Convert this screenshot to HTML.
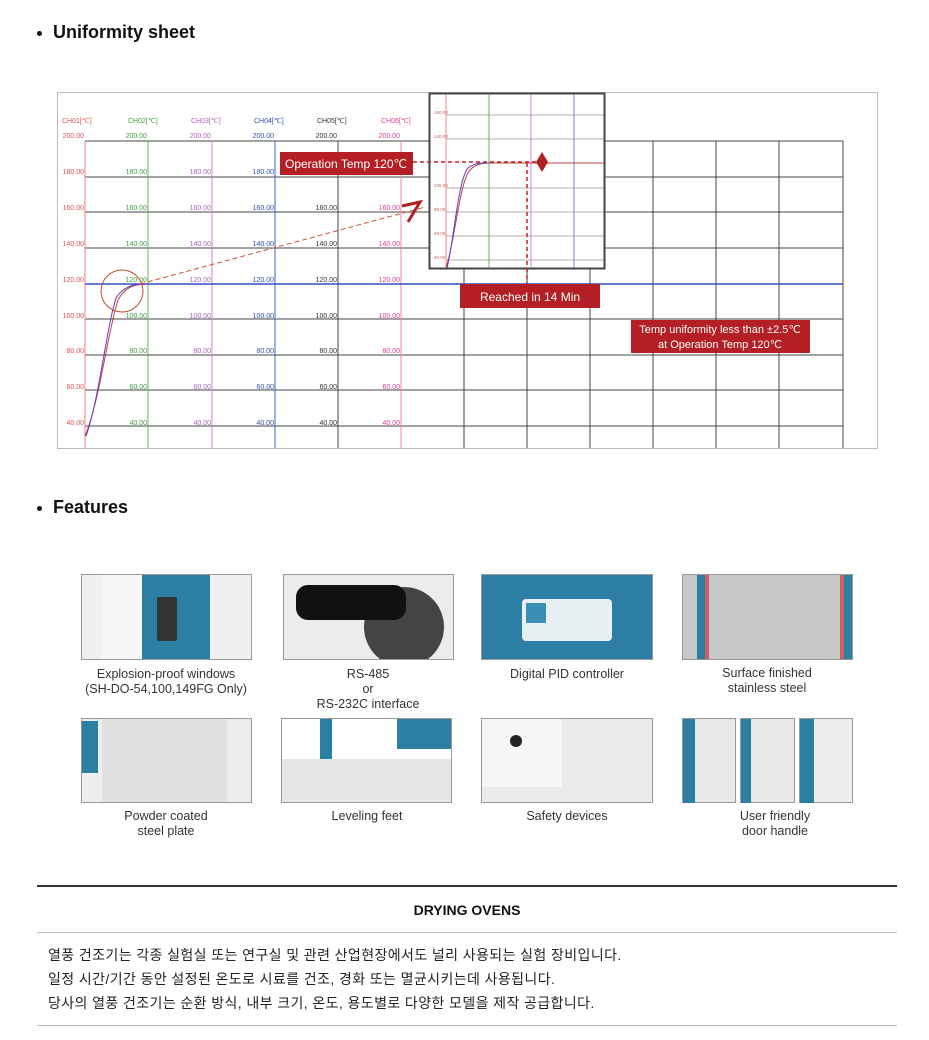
<!DOCTYPE html>
<html><head><meta charset="utf-8"><style>
body{margin:0;width:929px;height:1040px;background:#fff;font-family:"Liberation Sans",sans-serif;position:relative;overflow:hidden}
.h{position:absolute;left:37px;font-weight:bold;font-size:18px;color:#111}
.h:before{content:"";position:absolute;left:0;top:9px;width:5px;height:5px;border-radius:50%;background:#111}
.h span{margin-left:16px}
.img{position:absolute;border:1px solid #999;box-sizing:border-box;overflow:hidden;background:#e8e8e8}
.cap{position:absolute;width:200px;text-align:center;font-size:12.5px;color:#333;line-height:15px;font-family:"Liberation Sans Narrow","Liberation Sans",sans-serif}
.kr{position:absolute;left:48px;font-size:14px;letter-spacing:0.4px;color:#222;font-family:"Liberation Sans","Noto Sans CJK KR",sans-serif}
</style></head><body>
<div class="h" style="top:22px"><span>Uniformity sheet</span></div>
<div class="h" style="top:497px"><span>Features</span></div>

<svg style="position:absolute;left:0;top:0" width="929" height="460" font-family="Liberation Sans Narrow, Liberation Sans, sans-serif">
<rect x="57.5" y="92.5" width="820" height="356" fill="#fff" stroke="#bbb"/>
<g stroke="#444" stroke-width="1">
<line x1="85" y1="141" x2="843" y2="141"/><line x1="85" y1="177" x2="843" y2="177"/><line x1="85" y1="212" x2="843" y2="212"/><line x1="85" y1="248" x2="843" y2="248"/><line x1="85" y1="319" x2="843" y2="319"/><line x1="85" y1="355" x2="843" y2="355"/><line x1="85" y1="390" x2="843" y2="390"/><line x1="85" y1="426" x2="843" y2="426"/>
<line x1="338" y1="141" x2="338" y2="448"/><line x1="464" y1="141" x2="464" y2="448"/><line x1="527" y1="141" x2="527" y2="448"/><line x1="590" y1="141" x2="590" y2="448"/><line x1="653" y1="141" x2="653" y2="448"/><line x1="716" y1="141" x2="716" y2="448"/><line x1="779" y1="141" x2="779" y2="448"/><line x1="843" y1="141" x2="843" y2="448"/>
</g>
<line x1="85" y1="141" x2="85" y2="448" stroke="#f08080"/>
<line x1="148" y1="141" x2="148" y2="448" stroke="#5cb85c"/>
<line x1="212" y1="141" x2="212" y2="448" stroke="#d080d0"/>
<line x1="275" y1="141" x2="275" y2="448" stroke="#4060c0"/>
<line x1="401" y1="141" x2="401" y2="448" stroke="#f080c0"/>
<line x1="85" y1="284" x2="843" y2="284" stroke="#3050c0" stroke-width="1.5"/>
<g font-size="7" fill="#e05050">
<text x="62" y="123">CH01[℃]</text><text x="128" y="123" fill="#40a040">CH02[℃]</text><text x="191" y="123" fill="#b060c0">CH03[℃]</text><text x="254" y="123" fill="#3050b0">CH04[℃]</text><text x="317" y="123" fill="#333">CH05[℃]</text><text x="381" y="123" fill="#e04090">CH06[℃]</text>
</g>
<g font-size="7">
<g fill="#e05050" text-anchor="end"><text x="84" y="138">200.00</text><text x="84" y="174">180.00</text><text x="84" y="210">160.00</text><text x="84" y="246">140.00</text><text x="84" y="282">120.00</text><text x="84" y="318">100.00</text><text x="84" y="353">80.00</text><text x="84" y="389">60.00</text><text x="84" y="425">40.00</text></g>
<g fill="#40a040" text-anchor="end"><text x="147" y="138">200.00</text><text x="147" y="174">180.00</text><text x="147" y="210">160.00</text><text x="147" y="246">140.00</text><text x="147" y="282">120.00</text><text x="147" y="318">100.00</text><text x="147" y="353">80.00</text><text x="147" y="389">60.00</text><text x="147" y="425">40.00</text></g>
<g fill="#b060c0" text-anchor="end"><text x="211" y="138">200.00</text><text x="211" y="174">180.00</text><text x="211" y="210">160.00</text><text x="211" y="246">140.00</text><text x="211" y="282">120.00</text><text x="211" y="318">100.00</text><text x="211" y="353">80.00</text><text x="211" y="389">60.00</text><text x="211" y="425">40.00</text></g>
<g fill="#3050b0" text-anchor="end"><text x="274" y="138">200.00</text><text x="274" y="174">180.00</text><text x="274" y="210">160.00</text><text x="274" y="246">140.00</text><text x="274" y="282">120.00</text><text x="274" y="318">100.00</text><text x="274" y="353">80.00</text><text x="274" y="389">60.00</text><text x="274" y="425">40.00</text></g>
<g fill="#333" text-anchor="end"><text x="337" y="138">200.00</text><text x="337" y="174">180.00</text><text x="337" y="210">160.00</text><text x="337" y="246">140.00</text><text x="337" y="282">120.00</text><text x="337" y="318">100.00</text><text x="337" y="353">80.00</text><text x="337" y="389">60.00</text><text x="337" y="425">40.00</text></g>
<g fill="#e04090" text-anchor="end"><text x="400" y="138">200.00</text><text x="400" y="174">180.00</text><text x="400" y="210">160.00</text><text x="400" y="246">140.00</text><text x="400" y="282">120.00</text><text x="400" y="318">100.00</text><text x="400" y="353">80.00</text><text x="400" y="389">60.00</text><text x="400" y="425">40.00</text></g>
</g>
<path d="M85 436 C100 400 108 330 118 300 C126 286 135 284 148 284" fill="none" stroke="#c04040" stroke-width="1"/>
<path d="M86 436 C99 400 106 330 116 298 C124 286 133 284 148 284" fill="none" stroke="#6040c0" stroke-width="1"/>
<circle cx="122" cy="291" r="21" fill="none" stroke="#c05030"/>
<line x1="140" y1="284" x2="425" y2="207" stroke="#d05030" stroke-dasharray="5,3"/>
<path d="M402 206 L420 202 L408 222" fill="none" stroke="#b02020" stroke-width="3"/>
<rect x="429.5" y="93.5" width="175" height="175" fill="#fff" stroke="#444" stroke-width="2"/>
<g stroke="#666" stroke-width="0.6"><line x1="446" y1="115" x2="604" y2="115"/><line x1="446" y1="139" x2="604" y2="139"/><line x1="446" y1="188" x2="604" y2="188"/><line x1="446" y1="212" x2="604" y2="212"/><line x1="446" y1="236" x2="604" y2="236"/><line x1="446" y1="260" x2="604" y2="260"/></g>
<line x1="446" y1="94" x2="446" y2="268" stroke="#f08080"/><line x1="489" y1="94" x2="489" y2="268" stroke="#5cb85c"/><line x1="531" y1="94" x2="531" y2="268" stroke="#d080d0"/><line x1="574" y1="94" x2="574" y2="268" stroke="#8080d0"/>
<g font-size="4.5" fill="#c06060"><text x="434" y="114">160.00</text><text x="434" y="138">140.00</text><text x="434" y="187">100.00</text><text x="434" y="211">80.00</text><text x="434" y="235">60.00</text><text x="434" y="259">40.00</text></g>
<path d="M446 268 C455 240 460 180 470 170 C476 164 482 163 490 163 L604 163" fill="none" stroke="#c04040"/>
<path d="M447 268 C454 240 458 180 468 168 C474 163 480 163 490 163" fill="none" stroke="#6040c0"/>
<line x1="413" y1="162" x2="540" y2="162" stroke="#c02020" stroke-width="1.5" stroke-dasharray="4,3"/>
<path d="M542 152 L548 162 L542 172 L536 162Z" fill="#b02020"/>
<line x1="527" y1="163" x2="527" y2="285" stroke="#c02020" stroke-width="1.5" stroke-dasharray="4,3"/>
<rect x="280" y="152" width="133" height="23" fill="#b31f24"/>
<text x="346" y="168" text-anchor="middle" font-size="12" fill="#fff" font-family="Liberation Sans">Operation Temp 120℃</text>
<rect x="460" y="284" width="140" height="24" fill="#b31f24"/>
<text x="530" y="301" text-anchor="middle" font-size="12" fill="#fff" font-family="Liberation Sans">Reached in 14 Min</text>
<rect x="631" y="320" width="179" height="33" fill="#b31f24"/>
<text x="720" y="333" text-anchor="middle" font-size="11" fill="#fff" font-family="Liberation Sans">Temp uniformity less than ±2.5℃</text>
<text x="720" y="348" text-anchor="middle" font-size="11" fill="#fff" font-family="Liberation Sans">at Operation Temp 120℃</text>
</svg>

<!-- row1 -->
<div class="img" style="left:81px;top:574px;width:171px;height:86px;background:#f0f0f0"><div style="position:absolute;left:20px;top:0;width:40px;height:86px;background:#f7f7f7"></div><div style="position:absolute;left:60px;top:0;width:68px;height:86px;background:#2a7fa3"></div><div style="position:absolute;left:75px;top:22px;width:20px;height:44px;background:#333;border-radius:2px"></div></div>
<div class="img" style="left:283px;top:574px;width:171px;height:86px;background:#ececec"><div style="position:absolute;left:80px;top:12px;width:80px;height:80px;border-radius:50%;background:#444"></div><div style="position:absolute;left:12px;top:10px;width:110px;height:35px;background:#111;border-radius:12px"></div></div>
<div class="img" style="left:481px;top:574px;width:172px;height:86px;background:#2c7ea5"><div style="position:absolute;left:40px;top:24px;width:90px;height:42px;background:#e8f0f4;border-radius:4px"></div><div style="position:absolute;left:44px;top:28px;width:20px;height:20px;background:#3a8fb8"></div></div>
<div class="img" style="left:682px;top:574px;width:171px;height:86px;background:#c8c8c8"><div style="position:absolute;left:14px;top:0;width:8px;height:86px;background:#2a7fa3"></div><div style="position:absolute;left:22px;top:0;width:4px;height:86px;background:#d06060"></div><div style="position:absolute;right:8px;top:0;width:4px;height:86px;background:#d06060"></div><div style="position:absolute;right:0;top:0;width:8px;height:86px;background:#2a7fa3"></div></div>
<div class="cap" style="left:66px;top:667px">Explosion-proof windows<br>(SH-DO-54,100,149FG Only)</div>
<div class="cap" style="left:268px;top:667px">RS-485<br>or<br>RS-232C interface</div>
<div class="cap" style="left:467px;top:667px">Digital PID controller</div>
<div class="cap" style="left:667px;top:666px">Surface finished<br>stainless steel</div>
<!-- row2 -->
<div class="img" style="left:81px;top:718px;width:171px;height:85px;background:#e2e2e2"><div style="position:absolute;left:0;top:0;width:20px;height:85px;background:#eee"></div><div style="position:absolute;left:0;top:2px;width:16px;height:52px;background:#2a7fa3"></div><div style="position:absolute;right:0;top:0;width:24px;height:85px;background:#ececec"></div></div>
<div class="img" style="left:281px;top:718px;width:171px;height:85px;background:#e6e6e6"><div style="position:absolute;left:0;top:0;width:171px;height:40px;background:#fff"></div><div style="position:absolute;left:38px;top:0;width:12px;height:40px;background:#2a7fa3"></div><div style="position:absolute;left:115px;top:0;width:56px;height:30px;background:#2a7fa3"></div></div>
<div class="img" style="left:481px;top:718px;width:172px;height:85px;background:#eaeaea"><div style="position:absolute;left:0;top:0;width:80px;height:68px;background:#f6f6f6"></div><div style="position:absolute;left:28px;top:16px;width:12px;height:12px;border-radius:50%;background:#222"></div></div>
<div class="img" style="left:682px;top:718px;width:171px;height:85px;background:#fff;border:none"><div style="position:absolute;left:0;top:0;width:54px;height:85px;background:#e8e8e8;border:1px solid #999;box-sizing:border-box"><div style="width:12px;height:85px;background:#2a7fa3"></div></div><div style="position:absolute;left:58px;top:0;width:55px;height:85px;background:#e8e8e8;border:1px solid #999;box-sizing:border-box"><div style="width:10px;height:85px;background:#2a7fa3"></div></div><div style="position:absolute;left:117px;top:0;width:54px;height:85px;background:#eee;border:1px solid #999;box-sizing:border-box"><div style="width:14px;height:85px;background:#2a7fa3"></div></div></div>
<div class="cap" style="left:66px;top:809px">Powder coated<br>steel plate</div>
<div class="cap" style="left:267px;top:809px">Leveling feet</div>
<div class="cap" style="left:467px;top:809px">Safety devices</div>
<div class="cap" style="left:675px;top:809px">User friendly<br>door handle</div>

<div style="position:absolute;left:37px;top:885px;width:860px;height:2px;background:#333"></div>
<div style="position:absolute;left:37px;top:902px;width:860px;text-align:center;font-weight:bold;font-size:14px;color:#111">DRYING OVENS</div>
<div style="position:absolute;left:37px;top:932px;width:860px;height:1px;background:#bbb"></div>
<div class="kr" style="top:945px">열풍 건조기는 각종 실험실 또는 연구실 및 관련 산업현장에서도 널리 사용되는 실험 장비입니다.</div>
<div class="kr" style="top:969px">일정 시간/기간 동안 설정된 온도로 시료를 건조, 경화 또는 멸균시키는데 사용됩니다.</div>
<div class="kr" style="top:993px">당사의 열풍 건조기는 순환 방식, 내부 크기, 온도, 용도별로 다양한 모델을 제작 공급합니다.</div>
<div style="position:absolute;left:37px;top:1025px;width:860px;height:1px;background:#bbb"></div>
</body></html>
